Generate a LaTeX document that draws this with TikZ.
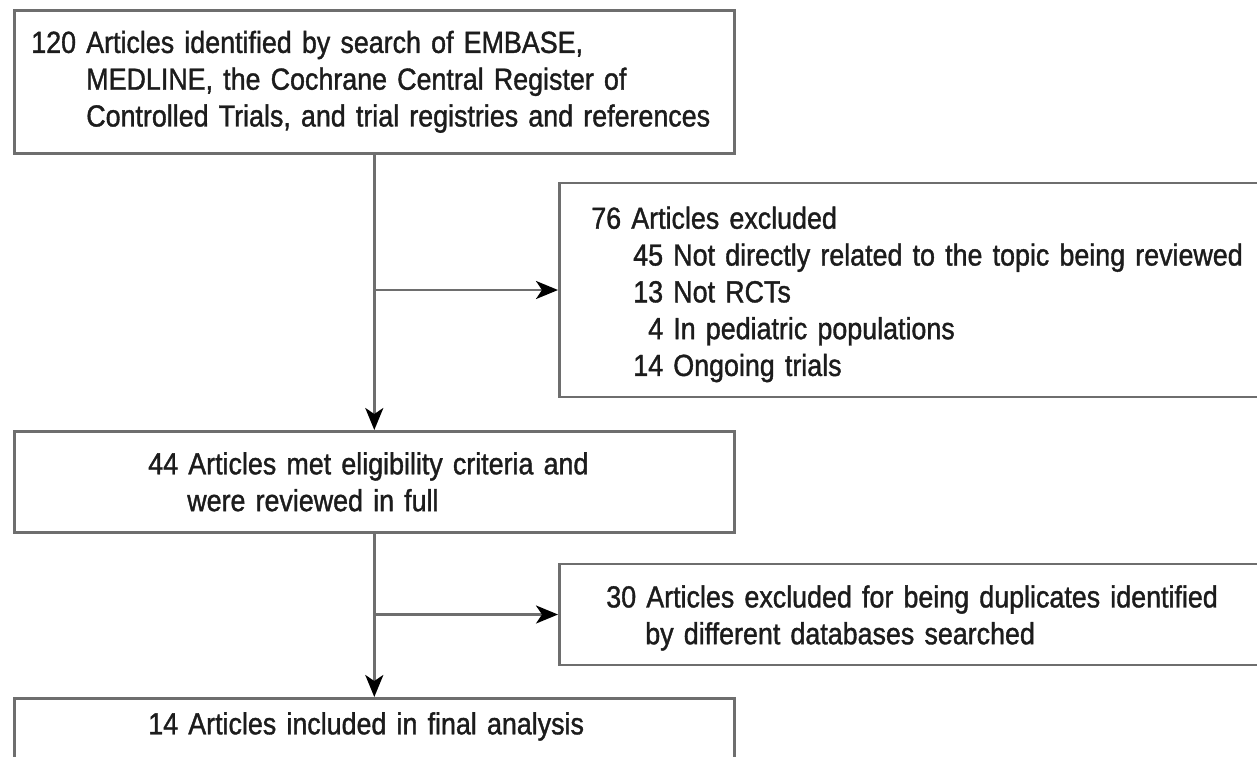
\documentclass[tikz,border=0pt]{standalone}
\usepackage{fontspec}
\setmainfont[FakeStretch=0.88,FakeBold=1.2]{Liberation Sans}
\usetikzlibrary{arrows.meta}
\definecolor{linegray}{HTML}{6E6E6E}
\definecolor{txt}{HTML}{1C1C1C}
\newcommand{\ind}[1]{\hspace*{#1pt}}
\newcommand{\tallstrut}[1]{\rule{0pt}{#1pt}}
\begin{document}
\begin{tikzpicture}[x=1pt,y=1pt,
  box/.style={draw=linegray, line width=2.6pt, rectangle, inner xsep=0pt, inner ysep=0pt,
    align=left, text=txt, font=\fontsize{30.5}{36.8}\selectfont},
  conn/.style={draw=linegray, line width=2.6pt},
  arr/.style={conn, -{Stealth[length=22pt,width=18pt,inset=6pt,color=black]}}]
\useasboundingbox (0,0) rectangle (1257,-756);
\fill[white] (0,0) rectangle (1257,-756);

\node[box, anchor=north west, text width=720pt, minimum height=143pt] (b1) at (13,-9)
  {\ind{17}120 Articles identified by search of EMBASE,\\
   \ind{72}MEDLINE, the Cochrane Central Register of\\
   \ind{72}Controlled Trials, and trial registries and references};

\node[box, anchor=north west, text width=720pt, minimum height=101pt] (b2) at (13,-430)
  {\ind{134}44 Articles met eligibility criteria and\\
   \ind{173}were reviewed in full};

\node[box, anchor=north west, text width=720pt, text height=36pt, text depth=90pt] (b3) at (13,-697)
  {\ind{134}14 Articles included in final analysis};

\node[box, anchor=west, text width=720pt, minimum height=214pt] (e1) at (558,-290)
  {\tallstrut{31}\ind{32}76 Articles excluded\\
   \ind{74}45 Not directly related to the topic being reviewed\\
   \ind{74}13 Not RCTs\\
   \ind{74}\hphantom{1}4 In pediatric populations\\
   \ind{74}14 Ongoing trials};

\node[box, anchor=west, text width=720pt, minimum height=101pt] (e2) at (558,-614.5)
  {\tallstrut{29}\ind{47}30 Articles excluded for being duplicates identified\\
   \ind{86}by different databases searched};

\draw[arr] (b1.south) -- (b2.north);
\draw[arr] (b1.south |- e1.west) -- (e1.west);
\draw[arr] (b2.south) -- (b3.north);
\draw[arr] (b2.south |- e2.west) -- (e2.west);
\end{tikzpicture}
\end{document}
